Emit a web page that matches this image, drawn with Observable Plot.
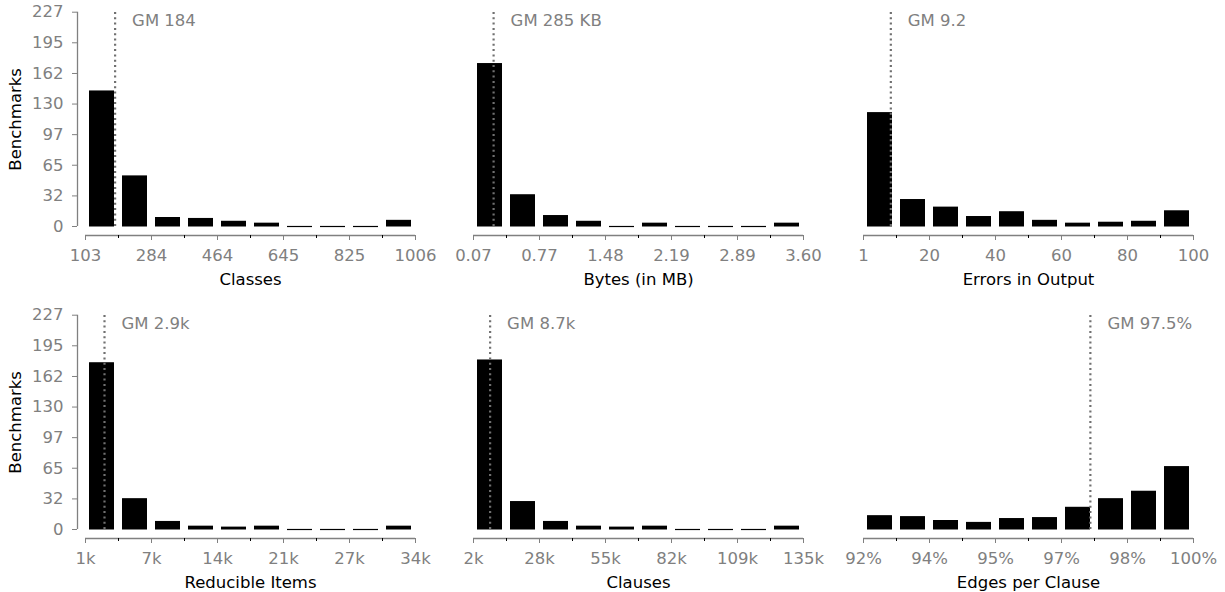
<!DOCTYPE html>
<html>
<head>
<meta charset="utf-8">
<script src="https://cdn.jsdelivr.net/npm/d3@7"></script>
<script src="https://cdn.jsdelivr.net/npm/@observablehq/plot@0.6"></script>
<style>
  html, body { margin: 0; padding: 0; background: #fff; }
  #chart { position: relative; width: 1225px; height: 592px; overflow: hidden; }
  #chart svg { position: absolute; }
</style>
</head>
<body>
<div id="chart"></div>
<script>
// ---- data ----
const yTicks = [0, 32.4, 64.9, 97.3, 129.7, 162.1, 194.6, 227];
const yTickLabels = ["0", "32", "65", "97", "130", "162", "195", "227"];
const yMax = 227;

const classesCounts   = [143, 53, 9, 8, 5, 3, 0, 0, 0, 6];
const bytesCounts     = [172, 33, 11, 5, 0, 3, 0, 0, 0, 3];
const errorsCounts    = [120, 28, 20, 10, 15, 6, 3, 4, 5, 16];
const reducibleCounts = [176, 32, 8, 3, 2, 3, 0, 0, 0, 3];
const clausesCounts   = [179, 29, 8, 3, 2, 3, 0, 0, 0, 3];
const edgesCounts     = [14, 13, 9, 7, 11, 12, 23, 32, 40, 66];

const classesTicks   = ["103", "284", "464", "645", "825", "1006"];
const bytesTicks     = ["0.07", "0.77", "1.48", "2.19", "2.89", "3.60"];
const errorsTicks    = ["1", "20", "40", "60", "80", "100"];
const reducibleTicks = ["1k", "7k", "14k", "21k", "27k", "34k"];
const clausesTicks   = ["2k", "28k", "55k", "82k", "109k", "135k"];
const edgesTicks     = ["92%", "94%", "95%", "97%", "98%", "100%"];

const panels = [
  {label: "Classes", min: 103, max: 1006, counts: classesCounts, ticks: classesTicks, gm: 184, gmLabel: "GM 184", col: 0, row: 0},
  {label: "Bytes (in MB)", min: 0.07, max: 3.60, counts: bytesCounts, ticks: bytesTicks, gm: 0.285, gmLabel: "GM 285 KB", col: 1, row: 0},
  {label: "Errors in Output", min: 1, max: 100, counts: errorsCounts, ticks: errorsTicks, gm: 9.2, gmLabel: "GM 9.2", col: 2, row: 0},
  {label: "Reducible Items", min: 1, max: 34, counts: reducibleCounts, ticks: reducibleTicks, gm: 2.9, gmLabel: "GM 2.9k", col: 0, row: 1},
  {label: "Clauses", min: 2, max: 135, counts: clausesCounts, ticks: clausesTicks, gm: 8.7, gmLabel: "GM 8.7k", col: 1, row: 1},
  {label: "Edges per Clause", min: 92, max: 100, counts: edgesCounts, ticks: edgesTicks, gm: 97.5, gmLabel: "GM 97.5%", col: 2, row: 1}
];

// ---- layout ----
const colLeft = [0, 388.3, 777.7];
const rowTop = [0, 303];
const GRAY = "#808080";
const FS = 16.5;

const chart = document.getElementById("chart");

for (const p of panels) {
  const n = p.counts.length;
  const step = (p.max - p.min) / n;
  const edges = d3.range(n + 1).map(i => p.min + i * step);
  const bins = p.counts.map((c, i) => ({x1: edges[i], x2: edges[i + 1], c}));
  const major = edges.filter((d, i) => i % 2 === 0);
  const minor = edges.filter((d, i) => i % 2 === 1);
  const showY = p.col === 0;

  const marks = [
    Plot.rectY(bins, {x1: "x1", x2: "x2", y1: 0, y2: "c", fill: "black", stroke: "black", strokeWidth: 1, insetLeft: 4.5, insetRight: 4.5}),
    // outline top edge so that empty bins still show as a thin line
    Plot.ruleY(bins, {x1: "x1", x2: "x2", y: "c", stroke: "black", strokeWidth: 1.2, insetLeft: 4, insetRight: 4}),
    Plot.ruleX([p.gm], {x: d => d, y1: 0, y2: yMax, stroke: "#707070", strokeWidth: 2.2, strokeDasharray: "2,3.3"}),
    Plot.text([p.gmLabel], {x: () => p.gm, text: d => d, frameAnchor: "top", lineAnchor: "top", textAnchor: "start", dx: 17, dy: 2, fill: GRAY, fontSize: FS}),
    // x-axis line (offset below the baseline)
    Plot.ruleY([0], {y: d => d, x1: p.min, x2: p.max, dy: 9, stroke: GRAY, strokeWidth: 1.3}),
    Plot.axisX({ticks: major, tickFormat: d => p.ticks[major.indexOf(d)], tickSize: 5, tickPadding: 9, color: GRAY, fontSize: FS, label: null}),
    Plot.axisX({ticks: minor, tickFormat: () => "", tickSize: 3, tickPadding: 0, color: "black", label: null}),
    Plot.text([p.label], {x: () => (p.min + p.max) / 2, text: d => d, frameAnchor: "bottom", lineAnchor: "top", dy: 38, fill: "black", fontSize: FS})
  ];
  if (showY) {
    marks.push(
      Plot.ruleX([p.min], {x: d => d, y1: 0, y2: yMax, dx: -8, stroke: GRAY, strokeWidth: 1.3}),
      Plot.axisY({ticks: yTicks, tickFormat: d => yTickLabels[yTicks.indexOf(d)], tickSize: 5, tickPadding: 9, color: GRAY, fontSize: FS, label: null}),
      Plot.text(["Benchmarks"], {y: () => yMax / 2, text: d => d, frameAnchor: "left", rotate: -90, textAnchor: "middle", lineAnchor: "middle", dx: -62, fill: "black", fontSize: FS})
    );
  }

  const svg = Plot.plot({
    width: 445,
    height: 300,
    marginLeft: 77,
    marginRight: 30,
    marginTop: 11.7,
    marginBottom: 65,
    x: {domain: [p.min, p.max], insetLeft: 8, insetRight: 0},
    y: {domain: [0, yMax], insetBottom: 9, axis: showY ? undefined : null},
    style: {fontFamily: "DejaVu Sans", fontSize: FS + "px", background: "transparent", overflow: "visible"},
    marks
  });
  svg.style.left = colLeft[p.col] + "px";
  svg.style.top = rowTop[p.row] + "px";
  chart.appendChild(svg);
}
</script>
</body>
</html>
